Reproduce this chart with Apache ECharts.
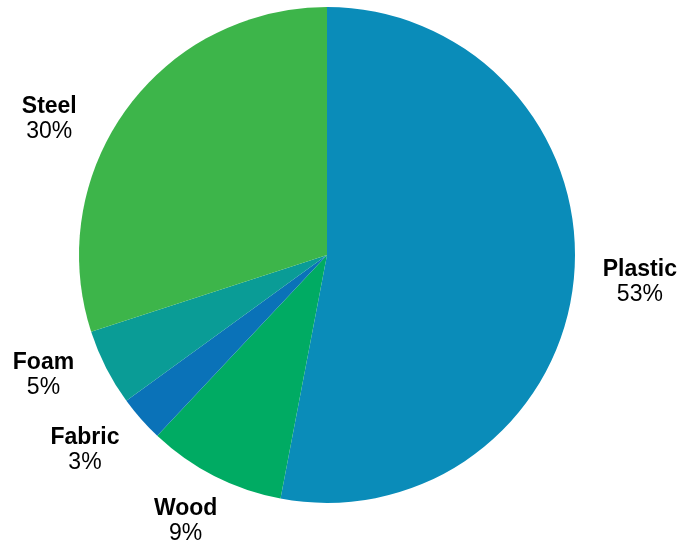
<!DOCTYPE html>
<html>
<head>
<meta charset="utf-8">
<script src="https://cdn.jsdelivr.net/npm/echarts@6/dist/echarts.min.js"></script>
<style>html,body{margin:0;padding:0;background:#fff}#c{width:688px;height:544px}</style>
</head>
<body>
<div id="c"></div>
<script>
var categories = ['Plastic', 'Wood', 'Fabric', 'Foam', 'Steel'];
var values = [53, 9, 3, 5, 30];
var colors = ['#0a8cb9', '#00ab63', '#0a72b8', '#0a9c96', '#3db54a'];

var CX = 327, CY = 255, R = 248;
var labelR = [314, 301, 311, 308, 309];
var labelShift = [-0.5, 1, 2.5, 4, -10];
var total = values.reduce(function (a, b) { return a + b; }, 0);
var FONT = "'Liberation Sans', Arial, Helvetica, sans-serif";

var chart = echarts.init(document.getElementById('c'));
chart.setOption({
  animation: false,
  series: [{
    type: 'pie',
    center: [CX, CY],
    radius: [0, R],
    startAngle: 90,
    clockwise: true,
    data: categories.map(function (n, i) {
      return { name: n, value: values[i], itemStyle: { color: colors[i] } };
    }),
    label: {
      show: true,
      position: 'inside',
      formatter: '{n|{b}}\n{p|{c}%}',
      rich: {
        n: { fontFamily: FONT, fontWeight: 'bold', fontSize: 23, color: '#000', lineHeight: 25, align: 'center' },
        p: { fontFamily: FONT, fontSize: 23, color: '#000', lineHeight: 25, align: 'center' }
      }
    },
    labelLine: { show: false },
    emphasis: { disabled: true },
    labelLayout: function (params) {
      var i = params.dataIndex, cum = 0;
      for (var k = 0; k < i; k++) cum += values[k];
      var th = ((cum + values[i] / 2) / total * 360 + labelShift[i]) * Math.PI / 180;
      return {
        x: CX + labelR[i] * Math.sin(th),
        y: CY - labelR[i] * Math.cos(th),
        align: 'center',
        verticalAlign: 'middle'
      };
    }
  }]
});
</script>
</body>
</html>
